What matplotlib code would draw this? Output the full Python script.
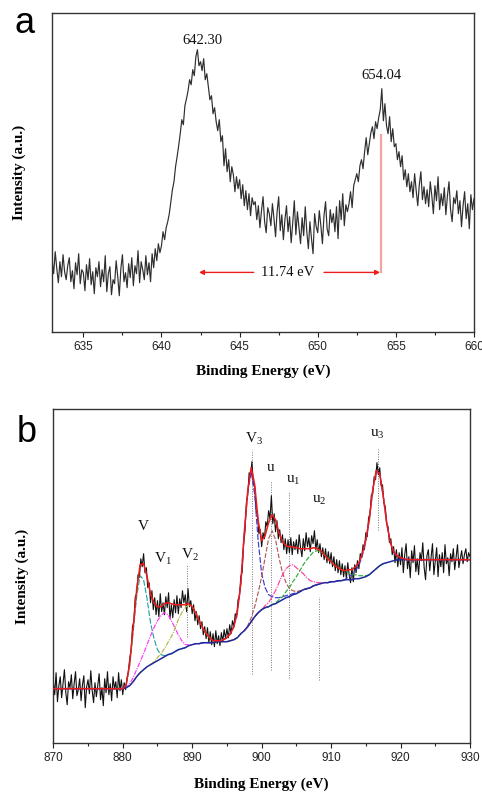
import numpy as np
import matplotlib
matplotlib.use('Agg')
import matplotlib.pyplot as plt
from matplotlib.ticker import MultipleLocator

plt.rcParams['font.family'] = ['Liberation Serif', 'DejaVu Serif']
plt.rcParams['mathtext.fontset'] = 'custom'
plt.rcParams['mathtext.rm'] = 'Liberation Serif'
plt.rcParams['mathtext.it'] = 'Liberation Serif:italic'
plt.rcParams['mathtext.bf'] = 'Liberation Serif:bold'

# ---------------- Panel a : Mn 2p spectrum (0.1 eV steps from 633.0 eV) ----------------
mn_start, mn_step = 633.0, 0.1
mn_intensity = [
    72, 58, 80, 63, 49, 70, 55, 77, 60, 52,
    66, 74, 50, 61, 43, 69, 57, 78, 48, 62,
    59, 41, 67, 52, 73, 47, 60, 38, 64, 55,
    70, 45, 62, 50, 76, 40, 58, 65, 37, 52,
    48, 71, 55, 36, 63, 77, 50, 59, 44, 68,
    54, 74, 46, 66, 58, 81, 49, 70, 62, 52,
    76, 57, 69, 50, 78, 64, 83, 71, 88, 79,
    86, 100, 92, 104, 110, 118, 130, 142, 150, 165,
    175, 186, 198, 212, 207, 226, 233, 241, 252, 247,
    262, 256, 275, 282, 266, 270, 261, 273, 252, 258,
    245, 232, 236, 218, 224, 210, 201, 212, 190, 196,
    166, 183, 160, 172, 150, 165, 157, 140, 155, 143,
    152, 133, 147, 126, 141, 122, 138, 116, 134, 127,
    130, 112, 126, 104, 121, 135, 110, 99, 124, 118,
    106, 128, 113, 95, 120, 135, 101, 117, 92, 112,
    126, 100, 115, 89, 109, 131, 97, 120, 104, 88,
    114, 96, 125, 100, 83, 110, 93, 78, 118, 105,
    99, 121, 106, 88, 116, 130, 103, 96, 122, 109,
    118, 100, 125, 93, 131, 112, 138, 106, 127, 120,
    128, 140, 124, 146, 152, 158, 150, 166, 172, 163,
    180, 194, 177, 188, 199, 205, 193, 210, 203, 214,
    222, 243, 211, 228, 206, 198, 215, 190, 203, 185,
    188, 172, 180, 165, 176, 152, 162, 145, 158, 140,
    150, 134, 158, 141, 126, 147, 160, 132, 145, 128,
    142, 125, 150, 136, 118, 146, 131, 155, 122, 138,
    126, 144, 117, 136, 150, 122, 110, 134, 128, 141,
    118, 131, 105, 126, 140, 113, 128, 103, 137, 122,
    133,
]
mn_peaks = [642.30, 654.04]
mn_peak_labels = ['642.30', '654.04']
mn_split_label = '11.74 eV'

# ---------------- Panel b : Ce 3d spectrum (0.2 eV steps from 870.0 eV) ----------------
ce_start, ce_step = 870.0, 0.2
ce_intensity = [
    62, 48, 70, 41, 57,
    66, 45, 59, 73, 50,
    38, 61, 55, 68, 44,
    59, 71, 47, 53, 64,
    42, 58, 67, 35, 56,
    63, 49, 72, 52, 40,
    60, 46, 57, 69, 43,
    55, 37, 64, 50, 71,
    48, 59, 42, 66, 54,
    61, 45, 70, 52, 63,
    48, 60, 53, 64, 71,
    84, 92, 116, 121, 146,
    149, 168, 165, 184, 176,
    189, 170, 175, 155, 160,
    140, 152, 133, 145, 128,
    142, 126, 149, 131, 140,
    128, 146, 135, 150, 124,
    138, 125, 143, 130, 147,
    129, 144, 135, 152, 140,
    148, 131, 154, 136, 142,
    129, 138, 122, 131, 118,
    127, 114, 121, 108, 116,
    104, 115, 100, 111, 98,
    109, 96, 112, 99, 107,
    97, 110, 101, 113, 104,
    114, 105, 118, 109, 122,
    116, 129, 125, 143, 146,
    166, 171, 199, 211, 240,
    248, 270, 266, 281, 259,
    256, 232, 228, 209, 213,
    196, 210, 204, 221, 216,
    232, 224, 247, 219, 229,
    211, 222, 204, 213, 200,
    208, 193, 204, 189, 203,
    190, 205, 188, 201, 193,
    203, 189, 208, 195, 186,
    204, 192, 210, 196, 205,
    191, 207, 199, 212, 193,
    203, 190, 199, 186, 195,
    183, 194, 180, 191, 179,
    190, 176, 186, 172, 183,
    170, 182, 168, 179, 166,
    177, 164, 180, 168, 160,
    175, 161, 178, 170, 182,
    174, 189, 185, 198, 193,
    210, 206, 225, 229, 248,
    249, 266, 263, 280, 268,
    275, 257, 258, 240, 236,
    219, 216, 200, 204, 188,
    196, 180, 193, 176, 190,
    178, 195, 170, 188, 199,
    174, 186, 165, 192, 180,
    197, 171, 184, 168, 190,
    182, 200, 175, 163, 187,
    193, 172, 185, 199, 168,
    181, 195, 166, 188, 176,
    190, 170, 198, 179, 185,
    167, 189, 181, 194, 173,
    186, 198, 175, 184, 192,
    179, 188, 194, 181, 190,
    186,
]

# fit grid (0.5 eV steps from 870.0 eV): Shirley background
fit_start, fit_step = 870.0, 0.5
fit_background = (
    [54] * 21 +
    [55, 57, 61, 66, 70, 73, 76, 78, 80, 82,
     84, 86, 88, 89, 91, 93, 94, 95, 97, 98,
     99, 99, 100, 100, 100, 100, 101, 101, 101, 101,
     102, 103, 105, 109, 112, 116, 121, 126, 130, 133,
     135, 136, 138, 139, 141, 143, 145, 146, 148, 149,
     151, 153, 154, 155, 157, 158, 159, 160, 160, 161,
     161, 162, 162, 163, 163, 163, 164, 164, 165, 166,
     168, 171, 174, 177, 179, 180, 181, 182, 183] +
    [183] * 21
)

# fitted components: peak height above background, 0.5 eV steps from their start energy
comp_names = ['V', 'V1', 'V2', 'V3', 'u', 'u1', 'u2', 'u3']
comp_starts = [880.5, 881.0, 884.5, 894.0, 898.0, 900.5, 902.0, 912.5]
comp_V = [3, 20, 50, 80, 97, 90, 68, 42, 24, 11, 4, 1]
comp_V1 = [2, 4, 7, 11, 16, 22, 29, 35, 40, 43, 44, 40, 33, 24, 15, 8, 3, 1]
comp_V2 = [1, 3, 5, 8, 12, 17, 23, 30, 36, 40, 41, 38, 31, 23, 15, 9, 5, 2, 1]
comp_V3 = [1, 2, 4, 7, 13, 26, 50, 98, 135, 150, 122, 72, 36, 20, 12, 8, 6, 4, 3, 2, 2, 1, 1]
comp_u = [1, 4, 10, 20, 33, 50, 68, 74, 64, 44, 27, 15, 8, 4, 2, 1]
comp_u1 = [2, 4, 8, 13, 19, 25, 29, 31, 30, 26, 21, 16, 11, 7, 4, 2, 1]
comp_u2 = [1, 2, 3, 6, 9, 13, 17, 21, 25, 29, 32, 34, 34, 32, 28, 24, 20, 16, 13, 11, 9, 7, 5, 4, 3, 2, 1]
comp_u3 = [3, 5, 8, 13, 22, 36, 55, 82, 98, 92, 68, 40, 20, 9, 4, 2, 1]
comp_values = [comp_V, comp_V1, comp_V2, comp_V3, comp_u, comp_u1, comp_u2, comp_u3]

# peak labels and marker positions
ce_label_texts = ['V', r'V$_{\mathrm{1}}$', r'V$_{\mathrm{2}}$', r'V$_{\mathrm{3}}$',
                  'u', r'u$_{\mathrm{1}}$', r'u$_{\mathrm{2}}$', r'u$_{\mathrm{3}}$']
ce_label_energy = [882.9, 885.8, 889.7, 898.9, 901.35, 904.6, 908.3, 916.7]
ce_label_height = [216, 184, 188, 304, 275, 262, 242, 308]
ce_marker_energy = [889.3, 898.55, 901.35, 903.95, 908.24, 916.72]
ce_marker_top = [179, 293, 262, 252, 146, 294]
ce_marker_bottom = [106, 69, 73, 65, 63, 213]

comp_colors = ['#2ba3a0', '#ff33ff', '#b5b545', '#3a3ad0', '#b05a5a', '#ff3fa0', '#33aa33', '#4040c8']
comp_styles = [(0, (5, 1.5)), (0, (4, 1, 1, 1)), (0, (4, 1, 1, 1)), (0, (5, 1.5)),
               (0, (4, 1.5)), (0, (5, 1, 1, 1)), (0, (4, 1.5)), (0, (5, 1.5))]

# ---------------- figure ----------------
fig = plt.figure(figsize=(4.82, 7.94), dpi=100)
axA = fig.add_axes([52.1 / 482, 1 - 331.7 / 794, (474 - 52.1) / 482, (331.7 - 12.7) / 794])
axB = fig.add_axes([53.3 / 482, 1 - 742.7 / 794, (470 - 53.3) / 482, (742.7 - 409.3) / 794])

for ax in (axA, axB):
    for sp in ax.spines.values():
        sp.set_linewidth(1.0)
        sp.set_color('#333333')
    ax.tick_params(axis='x', which='both', direction='out', labelsize=8.5,
                   labelfontfamily='Liberation Sans', width=0.8, pad=3.5, colors='#222222')
    ax.tick_params(axis='x', which='major', length=3.4)
    ax.tick_params(axis='x', which='minor', length=1.8)
    ax.tick_params(axis='y', which='both', left=False, labelleft=False)

# panel a
mn_energy = mn_start + mn_step * np.arange(len(mn_intensity))
axA.plot(mn_energy, mn_intensity, color='#2e2e2e', lw=0.85)
axA.set_xlim(633, 660)
axA.set_ylim(0, 319)
axA.xaxis.set_major_locator(MultipleLocator(5))
axA.xaxis.set_minor_locator(MultipleLocator(2.5))
axA.text(642.62, 291, mn_peak_labels[0], ha='center', va='center', fontsize=10.5, color='#111111')
axA.text(654.1, 256.5, mn_peak_labels[1], ha='center', va='center', fontsize=10.5, color='#111111')
axA.plot([mn_peaks[1], mn_peaks[1]], [59.3, 197], color='#f4a3a3', lw=1.6)
arrow_kw = dict(arrowstyle='-|>', color='#ee1c1c', lw=1.0, mutation_scale=7, shrinkA=0, shrinkB=0)
axA.annotate('', xy=(mn_peaks[0] + 0.1, 59.3), xytext=(645.9, 59.3), arrowprops=arrow_kw)
axA.annotate('', xy=(mn_peaks[1] - 0.05, 59.3), xytext=(650.4, 59.3), arrowprops=arrow_kw)
axA.text(648.05, 59.5, mn_split_label, ha='center', va='center', fontsize=10.5, color='#111111')
axA.set_xlabel('Binding Energy (eV)', fontsize=11, fontweight='bold', va='center')
axA.xaxis.set_label_coords(0.5, -40 / 319)
axA.set_ylabel('Intensity (a.u.)', fontsize=11, fontweight='bold', va='center')
axA.yaxis.set_label_coords((19 - 52.1) / 422, 0.5)

# panel b
ce_energy = ce_start + ce_step * np.arange(len(ce_intensity))
fit_energy = fit_start + fit_step * np.arange(len(fit_background))
bg = np.array(fit_background, dtype=float)
envelope = bg.copy()

for xm, yt, yb in zip(ce_marker_energy, ce_marker_top, ce_marker_bottom):
    axB.plot([xm, xm], [yb, yt], color='#777777', lw=0.7, ls=(0, (1, 1.5)), zorder=1)

axB.plot(ce_energy, ce_intensity, color='#111111', lw=0.8, zorder=2)

for start, vals, col, sty in zip(comp_starts, comp_values, comp_colors, comp_styles):
    i0 = int(round((start - fit_start) / fit_step))
    idx = np.arange(i0, i0 + len(vals))
    envelope[idx] += np.array(vals, dtype=float)
    lo, hi = max(i0 - 6, 0), min(i0 + len(vals) + 6, len(bg))
    seg = bg[lo:hi].copy()
    seg[i0 - lo:i0 - lo + len(vals)] += np.array(vals, dtype=float)
    axB.plot(fit_energy[lo:hi], seg, color=col, lw=0.85, ls=sty, zorder=3)

axB.plot(fit_energy, bg, color='#1f2a9c', lw=1.1, zorder=3)
axB.plot(fit_energy, envelope, color='#ee1a1a', lw=1.1, zorder=4)

for txt, xe, yh in zip(ce_label_texts, ce_label_energy, ce_label_height):
    axB.text(xe, yh, txt, ha='center', va='center', fontsize=11, color='#111111')

axB.set_xlim(870, 930)
axB.set_ylim(0, 333.4)
axB.xaxis.set_major_locator(MultipleLocator(10))
axB.xaxis.set_minor_locator(MultipleLocator(5))
axB.set_xlabel('Binding Energy (eV)', fontsize=11, fontweight='bold', va='center')
axB.xaxis.set_label_coords(0.5, -42 / 333.4)
axB.set_ylabel('Intensity (a.u.)', fontsize=11, fontweight='bold', va='center')
axB.yaxis.set_label_coords((22 - 53.3) / 416.7, 0.5)

fig.text(14 / 482, 1 - 33.3 / 794, 'a', fontsize=26, family='Liberation Sans', ha='left', va='baseline')
fig.text(16.7 / 482, 1 - 441.7 / 794, 'b', fontsize=26, family='Liberation Sans', ha='left', va='baseline')

fig.savefig('out.png', dpi=100)
